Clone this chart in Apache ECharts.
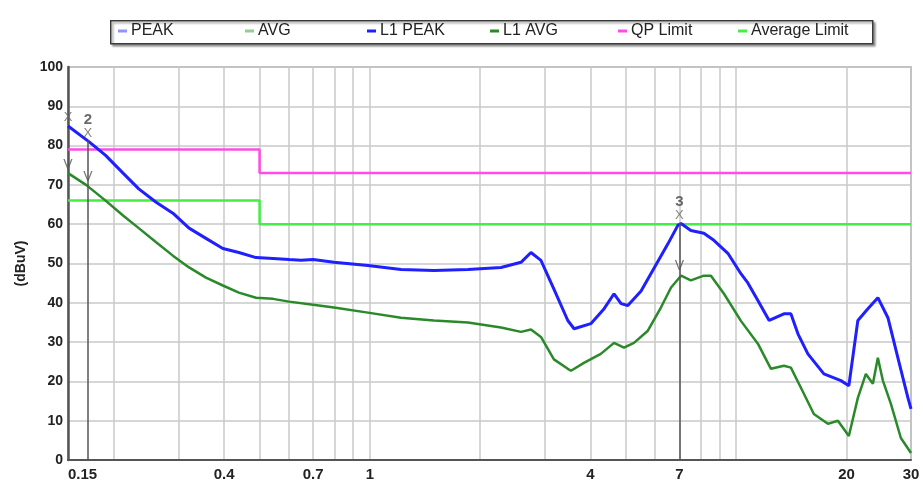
<!DOCTYPE html>
<html>
<head>
<meta charset="utf-8">
<script src="https://cdn.jsdelivr.net/npm/echarts@6/dist/echarts.min.js"></script>
<style>
html,body{margin:0;padding:0;background:#fff;}
#chart{width:923px;height:487px;}
</style>
</head>
<body>
<div id="chart"></div>
<script>
// ---------- data (frequency in MHz, level in dBuV) ----------
const gridFreqs = [0.15,0.2,0.3,0.4,0.5,0.6,0.7,0.8,0.9,1,2,3,4,5,6,7,8,9,10,20,30];
const labelFreqs = [0.15,0.4,0.7,1,4,7,20,30];

const l1PeakFreq = [0.15,0.171,0.190,0.212,0.234,0.261,0.290,0.321,0.357,0.397,0.439,0.489,0.544,0.602,0.649,0.700,0.798,0.988,1.216,1.496,1.853,2.280,2.586,2.753,2.931,3.18,3.47,3.61,4.01,4.36,4.64,4.85,5.06,5.50,5.96,6.51,6.93,7.07,7.52,8.16,8.69,9.49,10.30,10.77,11.46,12.3,13.50,14.10,14.74,15.69,17.35,19.31,20.30,21.48,22.88,24.36,25.95,27.63,29.43,30.0];
const l1PeakLevel = [85,81,77.5,73,69,65.6,62.8,59,56.4,53.8,52.8,51.5,51.3,51,50.8,51,50.3,49.5,48.5,48.2,48.5,49,50.3,52.8,50.8,43.5,35.5,33.4,34.7,38.5,42.3,39.8,39.3,43,48.7,55,59.7,60.2,58.4,57.7,55.9,52.6,47.4,45,40.6,35.5,37.2,37.2,32.1,27,21.9,20.2,18.9,35.5,38.5,41.3,36.2,26,15.8,13];

const l1AvgFreq = [0.15,0.168,0.190,0.212,0.234,0.261,0.290,0.321,0.357,0.397,0.439,0.489,0.544,0.602,0.700,0.798,0.988,1.216,1.496,1.853,2.280,2.586,2.753,2.931,3.18,3.47,3.54,3.84,4.27,4.64,4.94,5.26,5.74,6.23,6.64,7.07,7.52,8.16,8.53,9.26,10.30,11.46,12.44,13.50,14.10,15.02,16.29,17.79,18.95,20.30,21.48,22.59,23.61,24.36,25.14,26.44,28.15,30.0];
const l1AvgLevel = [73,70,66,62.2,59,55.4,52,49,46.4,44.4,42.6,41.3,41,40.3,39.5,38.8,37.5,36.2,35.5,35,33.7,32.6,33.2,31.3,25.6,23.2,22.7,24.7,27,29.8,28.6,29.8,32.9,38.8,43.9,46.9,45.7,46.9,46.9,42.3,35.4,29.6,23.2,24,23.5,18.4,11.7,9.2,10,6.1,15.8,21.9,19.4,26,20.2,14.3,5.6,1.8];

const qpLimitFreq = [0.15,0.5,0.5,30];
const qpLimitLevel = [79,79,73,73];
const avgLimitFreq = [0.15,0.5,0.5,30];
const avgLimitLevel = [66,66,60,60];

const markerFreq = [0.15,0.17,7.0];
const markerPeak = [85.2,81.3,60.3];
const markerAvg = [73,70,47.2];
const markerNum = ['','2','3'];

const legendNames = ['PEAK','AVG','L1 PEAK','L1 AVG','QP Limit','Average Limit'];
const legendLefts = [118,245,367,490,618,738];

// ---------- helpers ----------
const pairs = (xs, ys) => xs.map((x, i) => [x, ys[i]]);
const FONT = 'Liberation Sans, Arial, sans-serif';

const chart = echarts.init(document.getElementById('chart'), null, {renderer:'canvas'});

const legends = legendNames.map((n, i) => ({
  data: [n],
  left: legendLefts[i],
  top: 23,
  icon: 'rect',
  itemWidth: 9,
  itemHeight: 3,
  padding: 0,
  selectedMode: false,
  textStyle: {fontFamily: FONT, fontSize: 16, color: '#222', padding: [0,0,0,-1]}
}));

const option = {
  backgroundColor: '#fff',
  animation: false,
  graphic: [{
    type: 'rect', left: 110, top: 20, z: -1,
    shape: {width: 762, height: 23},
    style: {fill: '#fff', stroke: '#3a3a3a', lineWidth: 1.5,
            shadowColor: 'rgba(0,0,0,0.35)', shadowOffsetX: 2, shadowOffsetY: 2, shadowBlur: 2}
  }],
  legend: legends,
  grid: {left: 68, right: 12, top: 67, bottom: 27, show: true, borderColor: '#9a9a9a', borderWidth: 1.5},
  xAxis: {
    type: 'log', logBase: 10, min: 0.15, max: 30,
    axisLine: {show: true, onZero: false, lineStyle: {color: '#555', width: 2}},
    axisTick: {show: false, customValues: gridFreqs},
    splitLine: {show: true, lineStyle: {color: '#c8c8c8', width: 1.5}},
    minorSplitLine: {show: false},
    axisLabel: {
      customValues: labelFreqs,
      fontFamily: FONT, fontSize: 15, fontWeight: 'bold', color: '#222', margin: 7,
      alignMinLabel: 'left',
      formatter: v => String(Number(Number(v).toPrecision(3)))
    }
  },
  yAxis: {
    type: 'value', min: 0, max: 100, interval: 10,
    name: '(dBuV)', nameLocation: 'middle', nameGap: 40, nameRotate: 90,
    nameTextStyle: {fontFamily: FONT, fontSize: 14, fontWeight: 'bold', color: '#222'},
    axisLine: {show: true, lineStyle: {color: '#555', width: 2.5}},
    axisTick: {show: false},
    splitLine: {show: true, lineStyle: {color: '#c8c8c8', width: 1.5}},
    axisLabel: {fontFamily: FONT, fontSize: 14, fontWeight: 'bold', color: '#222', margin: 5}
  },
  series: [
    {
      name: 'PEAK', type: 'scatter', z: 6,
      data: pairs(markerFreq, markerPeak),
      symbolSize: 0,
      itemStyle: {color: '#7878ff'},
      label: {
        show: true, position: 'top', distance: 1,
        formatter: p => (markerNum[p.dataIndex] ? '{n|' + markerNum[p.dataIndex] + '}\n' : '') + '{x|X}',
        rich: {
          n: {fontFamily: FONT, fontSize: 15, fontWeight: 'bold', color: '#444', lineHeight: 14, align: 'center'},
          x: {fontFamily: FONT, fontSize: 13, color: '#666', lineHeight: 13, align: 'center'}
        }
      },
      markLine: {
        silent: true, symbol: 'none', label: {show: false},
        lineStyle: {color: '#555', width: 1.5, type: 'solid'},
        data: markerFreq.slice(1).map((f, i) => [{coord: [f, 0]}, {coord: [f, markerPeak[i + 1]]}])
      }
    },
    {
      name: 'AVG', type: 'scatter', z: 6,
      data: pairs(markerFreq, markerAvg),
      symbolSize: 0,
      itemStyle: {color: '#78c078'},
      label: {show: true, position: 'top', distance: 1, formatter: 'V',
              fontFamily: FONT, fontSize: 14, color: '#555'}
    },
    {
      name: 'L1 PEAK', type: 'line', z: 4, showSymbol: false, symbol: 'none',
      data: pairs(l1PeakFreq, l1PeakLevel),
      itemStyle: {color: '#1f1fff'},
      lineStyle: {color: '#1f1fff', width: 3}
    },
    {
      name: 'L1 AVG', type: 'line', z: 4, showSymbol: false, symbol: 'none',
      data: pairs(l1AvgFreq, l1AvgLevel),
      itemStyle: {color: '#2a8a2a'},
      lineStyle: {color: '#2a8a2a', width: 2.5}
    },
    {
      name: 'QP Limit', type: 'line', z: 3, showSymbol: false, symbol: 'none',
      data: pairs(qpLimitFreq, qpLimitLevel),
      itemStyle: {color: '#ff4ce6'},
      lineStyle: {color: '#ff4ce6', width: 2.5}
    },
    {
      name: 'Average Limit', type: 'line', z: 3, showSymbol: false, symbol: 'none',
      data: pairs(avgLimitFreq, avgLimitLevel),
      itemStyle: {color: '#44ee44'},
      lineStyle: {color: '#44ee44', width: 2.5}
    }
  ]
};
chart.setOption(option);
</script>
</body>
</html>
